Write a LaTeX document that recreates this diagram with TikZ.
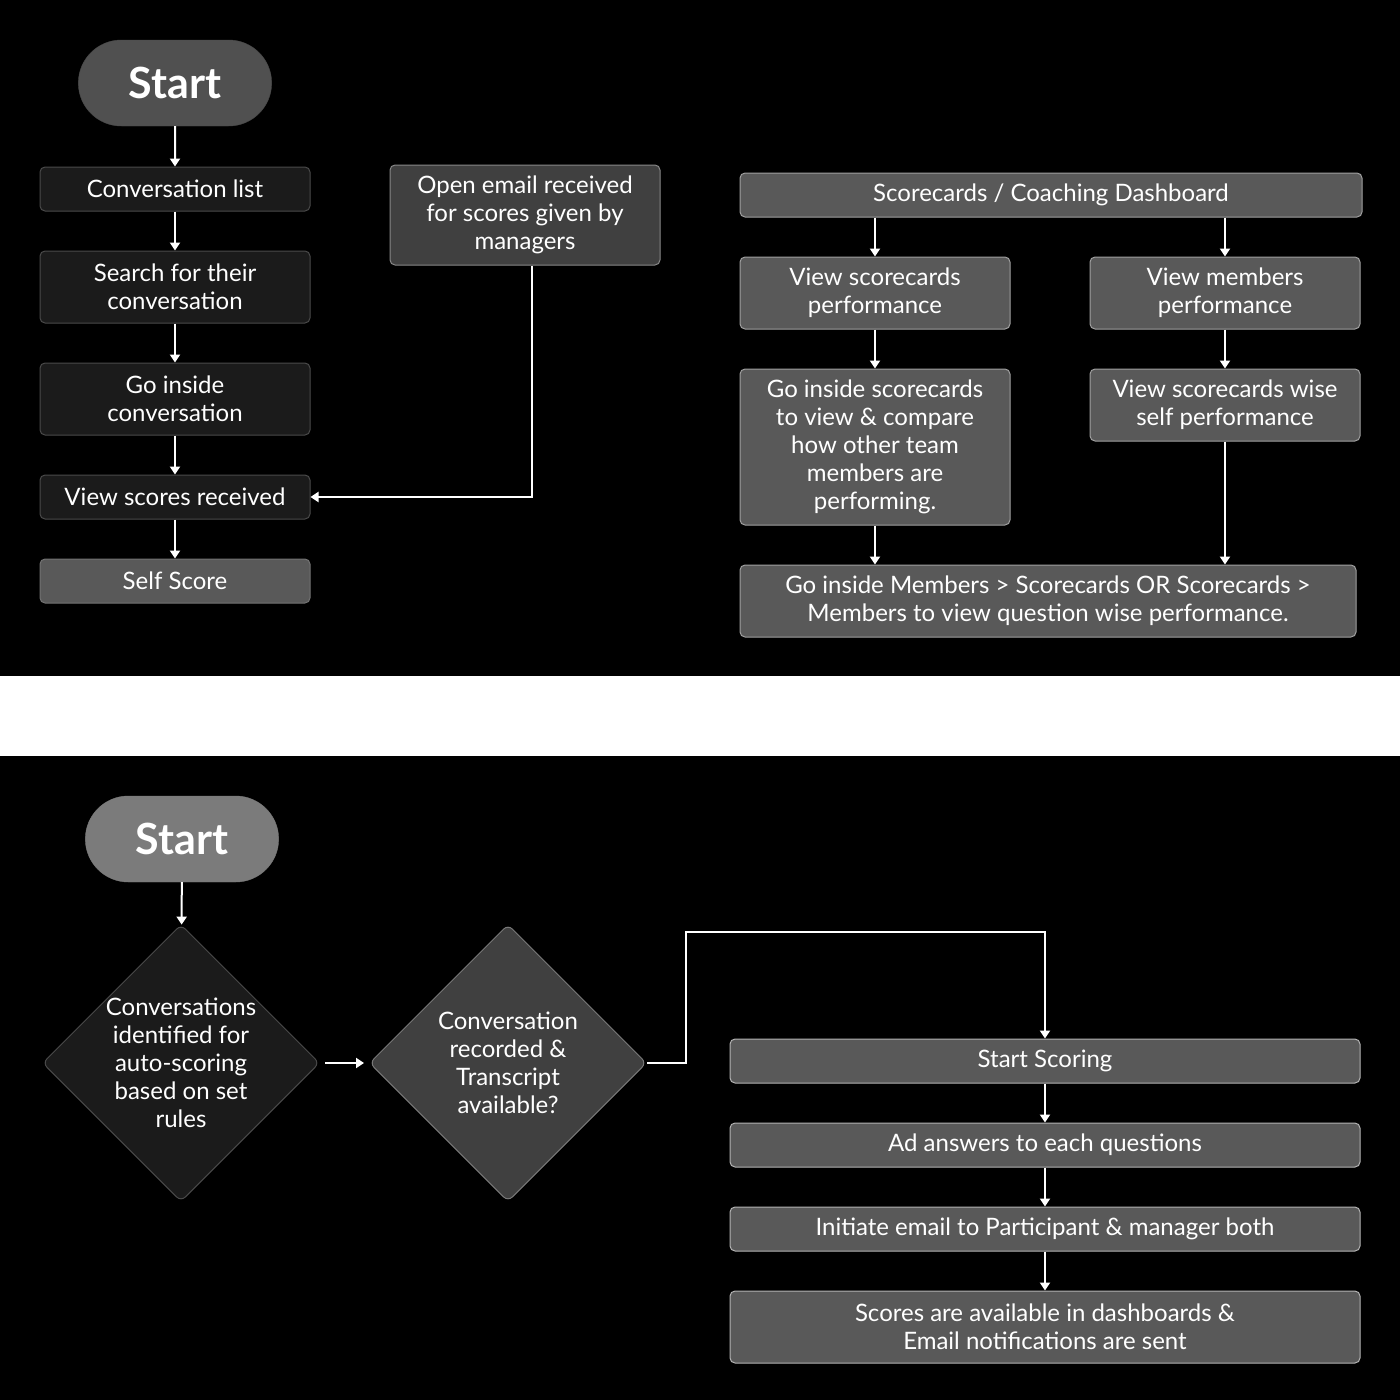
\documentclass[tikz,border=0pt]{standalone}
\usepackage{fontspec}
\setmainfont{Lato}
\usetikzlibrary{arrows.meta,shapes.geometric,shapes.misc}
\definecolor{darkbox}{HTML}{1B1B1B}
\definecolor{darkedge}{HTML}{4A4A4A}
\definecolor{boxgray}{HTML}{595959}
\definecolor{grayedge}{HTML}{A0A0A0}
\definecolor{midgray}{HTML}{404040}
\definecolor{startgray}{HTML}{505050}
\definecolor{lightgray}{HTML}{7B7B7B}

\begin{document}
\begin{tikzpicture}[x=1pt, y=-1pt,
    txt/.style={text=white, align=center, font=\fontsize{24}{28}\selectfont},
    box/.style={txt, rectangle, rounded corners=5pt, draw=darkedge, fill=darkbox, line width=1pt, minimum width=270pt, minimum height=44pt},
    graybox/.style={box, draw=grayedge, fill=boxgray},
    startnode/.style={rounded rectangle, draw=darkedge, text=white, minimum width=200pt, minimum height=86pt, font=\fontsize{43}{44}\selectfont\bfseries},
    decision/.style={diamond, draw=darkedge, line width=1pt, minimum width=277pt, minimum height=277pt, aspect=1, inner sep=0pt, rounded corners=6pt},
    arrow/.style={-{Triangle[width=10pt,length=8pt]}, line width=2pt, white}
]
\useasboundingbox (0,0) rectangle (1400,1400);
\fill[black] (0,0) rectangle (1400,676);
\fill[white] (0,676) rectangle (1400,756);
\fill[black] (0,756) rectangle (1400,1400);

% self scoring path
\node[startnode, fill=startgray] (start) at (175,83) {Start};
\node[box] (convlist) at (175,189) {Conversation list};
\node[box, minimum height=72pt] (search) at (175,287) {Search for their\\conversation};
\node[box, minimum height=72pt] (goinside) at (175,399) {Go inside\\conversation};
\node[box] (viewscores) at (175,497) {View scores received};
\node[graybox, draw=startgray!80!white] (selfscore) at (175,581) {Self Score};
\node[box, fill=midgray, draw=grayedge!85!black, minimum height=100pt] (email) at (525,215) {Open email received\\for scores given by\\managers};

\draw[arrow] (start) -- (convlist);
\draw[arrow] (convlist) -- (search);
\draw[arrow] (search) -- (goinside);
\draw[arrow] (goinside) -- (viewscores);
\draw[arrow] (viewscores) -- (selfscore);
\draw[arrow] ([xshift=7pt]email.south) |- (viewscores.east);

% dashboard path
\node[graybox, minimum width=622pt] (dashboard) at (1051,195) {Scorecards / Coaching Dashboard};
\node[graybox, minimum height=72pt] (viewcards) at (875,293) {View scorecards\\performance};
\node[graybox, minimum height=72pt] (viewmembers) at (1225,293) {View members\\performance};
\node[graybox, minimum height=156pt] (compare) at (875,447) {Go inside scorecards\\to view \& compare\\how other team\\members are\\performing.};
\node[graybox, minimum height=72pt] (selfperf) at (1225,405) {View scorecards wise\\self performance};
\node[graybox, minimum width=616pt, minimum height=72pt] (questions) at (1048,601) {Go inside Members > Scorecards OR Scorecards >\\Members to view question wise performance.};

\draw[arrow] (dashboard.south -| viewcards) -- (viewcards);
\draw[arrow] (dashboard.south -| viewmembers) -- (viewmembers);
\draw[arrow] (viewcards) -- (compare);
\draw[arrow] (viewmembers) -- (selfperf);
\draw[arrow] (compare) -- (questions.north -| compare);
\draw[arrow] (selfperf) -- (questions.north -| selfperf);

% auto scoring path
\node[startnode, fill=lightgray, draw=lightgray] (start2) at (182,839) {Start};
\node[decision, fill=darkbox, label={[txt]center:{Conversations\\identified for\\auto-scoring\\based on set\\rules}}] (auto) at (181,1063) {};
\node[decision, fill=midgray, draw=midgray!70!white, label={[txt]center:{Conversation\\recorded \&\\Transcript\\available?}}] (recorded) at (508,1063) {};
\node[graybox, minimum width=630pt, draw=grayedge!80!white] (scoring) at (1045,1061) {Start Scoring};
\node[graybox, minimum width=630pt, draw=grayedge!80!white] (answers) at (1045,1145) {Ad answers to each questions};
\node[graybox, minimum width=630pt, draw=grayedge!80!white] (initiate) at (1045,1229) {Initiate email to Participant \& manager both};
\node[graybox, minimum width=630pt, minimum height=72pt, draw=grayedge!80!white] (available) at (1045,1327) {Scores are available in dashboards \&\\Email notifications are sent};
\coordinate (turn) at (686,932);

\draw[arrow] (start2) -- (auto);
\draw[arrow, shorten <=5pt, shorten >=5pt] (auto.east) -- (recorded.west);
\draw[arrow] (recorded.east) -| (turn) -| (scoring.north);
\draw[arrow] (scoring) -- (answers);
\draw[arrow] (answers) -- (initiate);
\draw[arrow] (initiate) -- (available);

\end{tikzpicture}
\end{document}
